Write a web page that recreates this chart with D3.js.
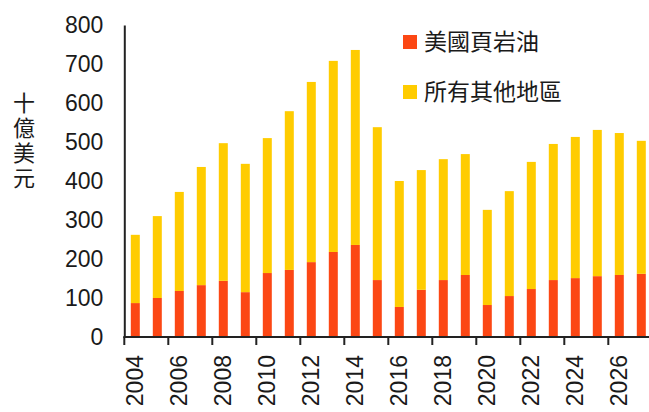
<!DOCTYPE html>
<html>
<head>
<meta charset="utf-8">
<script src="https://cdn.jsdelivr.net/npm/d3@7"></script>
<style>
  html, body { margin: 0; padding: 0; background: #fff; }
  svg { display: block; }
  text { font-family: "Liberation Sans", Arial, "Noto Sans CJK TC", sans-serif; fill: #1a1a1a; }
  .cjk { font-family: "Noto Sans CJK TC", "Noto Sans CJK SC", sans-serif; }
</style>
</head>
<body>
<script>
// ---- data ----
const years = ["2004","2005","2006","2007","2008","2009","2010","2011","2012","2013","2014","2015",
               "2016","2017","2018","2019","2020","2021","2022","2023","2024","2025","2026","2027"];
const usShale = [87,100,118,133,144,115,164,172,192,218,236,146,77,121,146,159,82,105,123,146,151,156,159,162];
const otherRegions = [175,210,254,303,353,329,346,407,462,490,500,392,323,307,310,310,244,269,326,349,362,375,364,341];
const yTicks = [0,100,200,300,400,500,600,700,800];
const xLabelYears = ["2004","2006","2008","2010","2012","2014","2016","2018","2020","2022","2024","2026"];
const seriesNames = ["美國頁岩油","所有其他地區"];
const yAxisTitle = "十億美元";
const colors = ["#FC4714", "#FFCC00"];

const W = 649, H = 412;
const x0 = 124.3, step = 22;
const yBase = 337, yTop = 25;

const svg = d3.select("body").append("svg").attr("width", W).attr("height", H);

const x = d3.scaleBand().domain(years)
  .range([x0, x0 + step * years.length])
  .paddingInner(13/22).paddingOuter(13/44);
const y = d3.scaleLinear().domain([0, 800]).range([yBase, yTop]);

const table = years.map((yr, i) => ({year: yr, s0: usShale[i], s1: otherRegions[i]}));
const stacked = d3.stack().keys(["s0","s1"])(table);

svg.append("g").selectAll("g").data(stacked).join("g")
  .attr("fill", (d, i) => colors[i])
  .selectAll("rect").data(d => d).join("rect")
  .attr("x", d => x(d.data.year))
  .attr("width", x.bandwidth())
  .attr("y", d => y(d[1]))
  .attr("height", d => y(d[0]) - y(d[1]));

// y axis
const yAxis = d3.axisLeft(y).tickValues(yTicks).tickSize(0).tickPadding(21).tickFormat(d3.format("d"));
const gy = svg.append("g").attr("transform", `translate(${x0},0)`).call(yAxis);
gy.select(".domain").attr("stroke", "#222").attr("stroke-width", 2);
gy.selectAll("text").attr("font-size", 23).attr("fill", "#1a1a1a")
  .style("font-family", '"Liberation Sans", Arial, sans-serif');

// x axis line
svg.append("line").attr("x1", x0 - 1).attr("x2", W).attr("y1", yBase).attr("y2", yBase)
  .attr("stroke", "#222").attr("stroke-width", 2);
// x ticks at category boundaries every two years
const boundaryYears = years.filter((d, i) => i % 2 === 0);
svg.append("g").selectAll("line").data(boundaryYears).join("line")
  .attr("x1", d => x(d) - x.step() * x.paddingInner() / 2)
  .attr("x2", d => x(d) - x.step() * x.paddingInner() / 2)
  .attr("y1", yBase).attr("y2", yBase + 8)
  .attr("stroke", "#222").attr("stroke-width", 2);
// x labels
svg.append("g").selectAll("text").data(xLabelYears).join("text")
  .attr("transform", d => `translate(${x(d) + x.bandwidth()/2 + 8},${yBase + 18}) rotate(-90)`)
  .attr("text-anchor", "end")
  .attr("font-size", 23)
  .text(d => d);

// y axis title (vertical writing)
svg.append("text")
  .attr("class", "cjk")
  .attr("x", 24).attr("y", 92)
  .attr("font-size", 22)
  .style("writing-mode", "vertical-rl")
  .style("letter-spacing", "3px")
  .text(yAxisTitle);

// legend
const lg = svg.append("g").selectAll("g").data(seriesNames).join("g")
  .attr("transform", (d, i) => `translate(403,${35 + i * 50})`);
lg.append("rect").attr("width", 14).attr("height", 14).attr("fill", (d, i) => colors[i]);
lg.append("text").attr("class", "cjk").attr("x", 21).attr("y", 15)
  .attr("font-size", 23).text(d => d);
</script>
</body>
</html>
